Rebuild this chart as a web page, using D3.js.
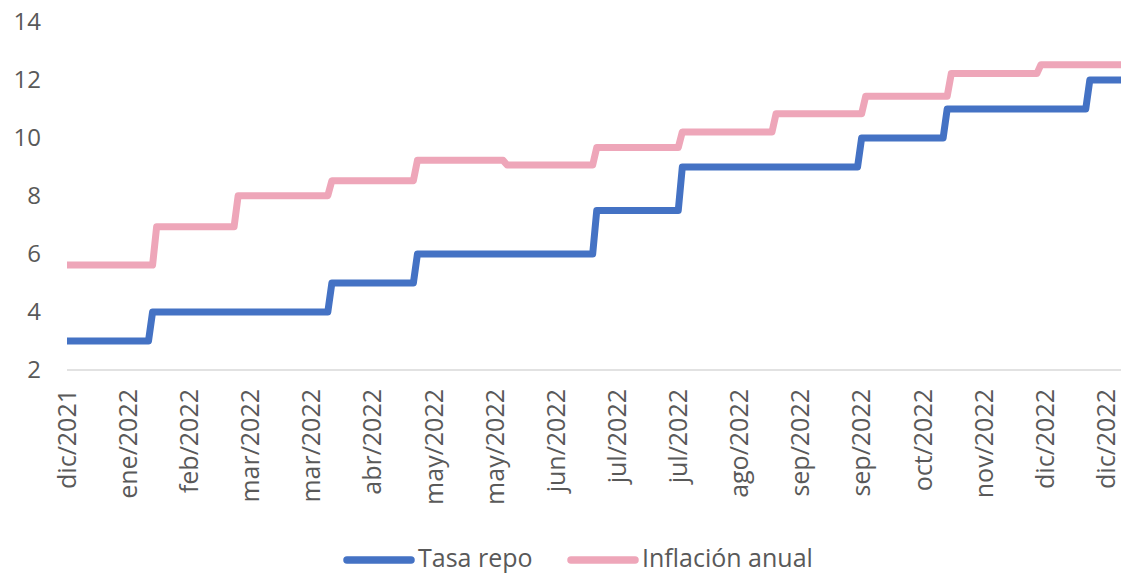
<!DOCTYPE html>
<html>
<head>
<meta charset="utf-8">
<script src="https://cdn.jsdelivr.net/npm/d3@7"></script>
<style>
  html, body { margin: 0; padding: 0; background: #fff; }
  svg { display: block; }
  text { font-family: "Open Sans", Lato, sans-serif; fill: #595959; }
</style>
</head>
<body>
<svg id="chart" width="1121" height="573"></svg>
<script>
// Policy rate (tasa repo): date each new level takes effect, and the level
const repoDates = ["2021-12-31","2022-01-31","2022-04-01","2022-05-02","2022-07-01",
                   "2022-08-01","2022-09-30","2022-10-31","2022-12-19"];
const repoValues = [3, 4, 5, 6, 7.5, 9, 10, 11, 12];

// Annual inflation: date each monthly figure starts to apply, and the figure
const inflDates = ["2021-12-31","2022-02-01","2022-03-01","2022-04-01","2022-05-02","2022-06-01",
                   "2022-07-01","2022-08-01","2022-09-01","2022-10-03","2022-11-01","2022-12-01"];
const inflValues = [5.62, 6.94, 8.01, 8.53, 9.23, 9.07, 9.67, 10.21, 10.84, 11.44, 12.22, 12.53];

const startDate = "2021-12-31";
const endDate = "2022-12-30";

// Category labels, one every 15 business days
const tickLabels = ["dic/2021","ene/2022","feb/2022","mar/2022","mar/2022","abr/2022",
                    "may/2022","may/2022","jun/2022","jul/2022","jul/2022","ago/2022",
                    "sep/2022","sep/2022","oct/2022","nov/2022","dic/2022","dic/2022"];
const labelEvery = 15;

const yTicks = [2, 4, 6, 8, 10, 12, 14];

const seriesNames = ["Tasa repo", "Inflación anual"];
const seriesColors = ["#4472C4", "#EEA6B9"];

// ---- helpers -------------------------------------------------------------
const parse = d3.timeParse("%Y-%m-%d");
const t0 = parse(startDate);
const isWeekday = d => d.getDay() !== 0 && d.getDay() !== 6;
// position of a date on the business-day category axis
function bday(str) {
  const d = parse(str);
  return d3.timeDay.range(d3.timeDay.offset(t0, 1), d3.timeDay.offset(d, 1)).filter(isWeekday).length;
}
const lastIdx = bday(endDate);

// ---- layout --------------------------------------------------------------
const svg = d3.select("#chart");
const plotLeft = 67, plotTop = 22, plotBottom = 370;
const pxPerDay = 4.075;

const x = d3.scaleLinear().domain([0, lastIdx]).range([plotLeft, plotLeft + lastIdx * pxPerDay]);
const y = d3.scaleLinear().domain([2, 14]).range([plotBottom, plotTop]);

// y tick labels
svg.append("g").selectAll("text").data(yTicks).join("text")
  .attr("x", 41).attr("y", d => y(d)).attr("dy", "0.35em")
  .attr("text-anchor", "end").style("font-size", "24px")
  .text(d => d);

// horizontal axis line
svg.append("line")
  .attr("x1", x(0)).attr("x2", x(lastIdx)).attr("y1", y(2)).attr("y2", y(2))
  .attr("stroke", "#d9d9d9").attr("stroke-width", 1.5);

// rotated category labels
svg.append("g").selectAll("text").data(tickLabels).join("text")
  .attr("transform", (d, i) => `translate(${x(i * labelEvery)},${389}) rotate(-90)`)
  .attr("dy", "0.35em").attr("text-anchor", "end").style("font-size", "25px")
  .text(d => d);

// step series: hold each level, then move to the next over one business day
function stepPoints(dates, values) {
  const pts = [[bday(dates[0]), values[0]]];
  for (let i = 1; i < dates.length; i++) {
    const k = bday(dates[i]);
    pts.push([k - 1, values[i - 1]], [k, values[i]]);
  }
  pts.push([lastIdx, values[values.length - 1]]);
  return pts;
}

const line = d3.line().x(d => x(d[0])).y(d => y(d[1])).curve(d3.curveLinear);

const series = [
  stepPoints(inflDates, inflValues),
  stepPoints(repoDates, repoValues)
];
const colorsDrawOrder = [seriesColors[1], seriesColors[0]];

svg.append("g").selectAll("path").data(series).join("path")
  .attr("d", line)
  .attr("fill", "none")
  .attr("stroke", (d, i) => colorsDrawOrder[i])
  .attr("stroke-width", 7)
  .attr("stroke-linejoin", "round");

// legend
const legendX = [347, 571];
const lg = svg.append("g").selectAll("g").data(seriesNames).join("g")
  .attr("transform", (d, i) => `translate(${legendX[i]},560)`);
lg.append("line")
  .attr("x1", 0).attr("x2", 64).attr("y1", 0).attr("y2", 0)
  .attr("stroke", (d, i) => seriesColors[i]).attr("stroke-width", 7.5)
  .attr("stroke-linecap", "round");
lg.append("text")
  .attr("x", 71).attr("y", 7).style("font-size", "25px")
  .text(d => d);
</script>
</body>
</html>
